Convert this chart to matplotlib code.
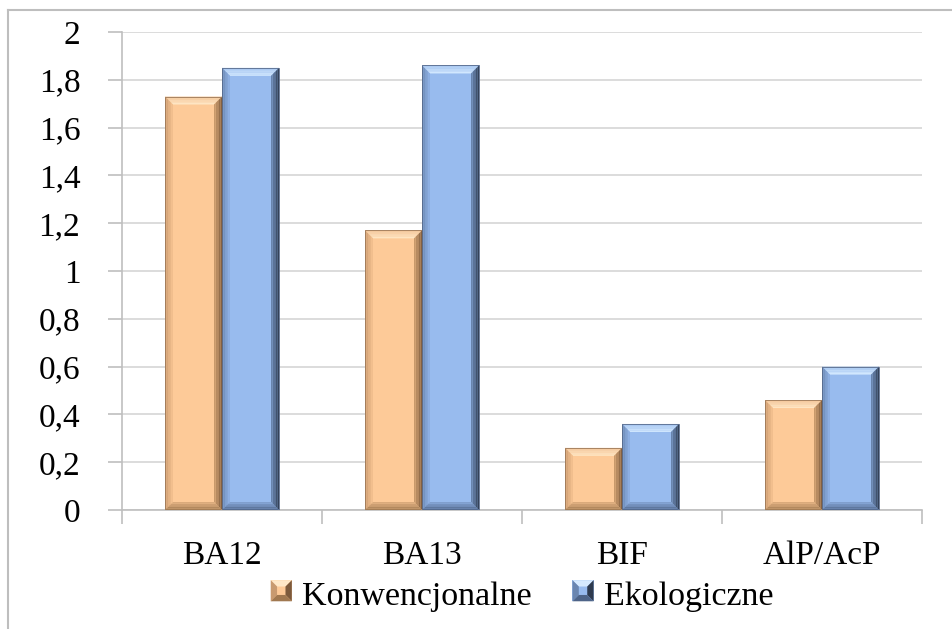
import matplotlib
matplotlib.use("Agg")
import matplotlib.pyplot as plt
from matplotlib.patches import Polygon, Rectangle
from matplotlib.legend_handler import HandlerBase
from matplotlib.lines import Line2D
from matplotlib.colors import to_rgb
import numpy as np

categories = ["BA12", "BA13", "BIF", "AlP/AcP"]
konwencjonalne = [1.73, 1.17, 0.26, 0.46]
ekologiczne = [1.85, 1.86, 0.36, 0.60]
series_names = ["Konwencjonalne", "Ekologiczne"]
yticks = [0, 0.2, 0.4, 0.6, 0.8, 1.0, 1.2, 1.4, 1.6, 1.8, 2.0]

plt.rcParams['font.family'] = ['Liberation Serif', 'DejaVu Serif']

W, H = 953, 629
fig = plt.figure(figsize=(W / 100, H / 100), dpi=100)
ax = fig.add_axes([122 / W, (H - 510) / H, (922 - 122) / W, (510 - 32) / H])

# each bevel: (outer colour, inner colour)
styles = {
    "Konwencjonalne": dict(main="#FDCA98", top=("#F2C69A", "#FFE8C8"), left=("#C89A70", "#F6C290"),
                           right=("#7C5A3C", "#D0A070"), bottom=("#A07850", "#E0B080"), edge="#9C7858"),
    "Ekologiczne": dict(main="#98BBEE", top=("#A8C8F0", "#D6EAFF"), left=("#6A86B0", "#90B2E6"),
                        right=("#2E3A4E", "#6E8CB8"), bottom=("#4E6488", "#86A6D6"), edge="#56698A"),
}

x = np.arange(len(categories))
bw = 0.285
ax.set_xlim(-0.5, len(categories) - 0.5)
ax.set_ylim(0, 2)

px_x = len(categories) / (922 - 122)
px_y = 2.0 / (510 - 32)
bev_x = 8 * px_x
bev_y = 8 * px_y
N = 5


def mix(c1, c2, t):
    a, b = np.array(to_rgb(c1)), np.array(to_rgb(c2))
    return tuple(a + (b - a) * t)


def bevel_bar(x0, w, h, st):
    x1 = x0 + w
    bx = min(bev_x, w / 4)
    by = min(bev_y, h / 4)
    ax.add_patch(Rectangle((x0, 0), w, h, facecolor=st["main"], edgecolor="none", zorder=3))
    for i in range(N):
        t0, t1 = i / N, (i + 1) / N
        tc = (i + 0.5) / N
        ax.add_patch(Polygon([(x0 + bx * t0, h - by * t0), (x1 - bx * t0, h - by * t0),
                              (x1 - bx * t1, h - by * t1), (x0 + bx * t1, h - by * t1)],
                             closed=True, facecolor=mix(*st["top"], tc), edgecolor="none", zorder=4))
        ax.add_patch(Polygon([(x0 + bx * t0, by * t0), (x0 + bx * t0, h - by * t0),
                              (x0 + bx * t1, h - by * t1), (x0 + bx * t1, by * t1)],
                             closed=True, facecolor=mix(*st["left"], tc), edgecolor="none", zorder=4))
        ax.add_patch(Polygon([(x1 - bx * t0, by * t0), (x1 - bx * t0, h - by * t0),
                              (x1 - bx * t1, h - by * t1), (x1 - bx * t1, by * t1)],
                             closed=True, facecolor=mix(*st["right"], tc), edgecolor="none", zorder=4))
        ax.add_patch(Polygon([(x0 + bx * t0, by * t0), (x1 - bx * t0, by * t0),
                              (x1 - bx * t1, by * t1), (x0 + bx * t1, by * t1)],
                             closed=True, facecolor=mix(*st["bottom"], tc), edgecolor="none", zorder=4))
    ax.add_patch(Rectangle((x0, 0), w, h, facecolor="none", edgecolor=st["edge"],
                           linewidth=0.6, zorder=5))


for vals, name, off in [(konwencjonalne, series_names[0], -bw), (ekologiczne, series_names[1], 0)]:
    for xi, v in zip(x, vals):
        bevel_bar(xi + off, bw, v, styles[name])

ax.set_yticks(yticks)
ax.set_yticklabels([("%g" % t).replace(".", ",") for t in yticks])
ax.yaxis.grid(True, color="#D9D9D9", linewidth=1.3, zorder=0)
ax.set_axisbelow(True)
ax.set_xticks(x)
ax.set_xticklabels(categories)
ax.set_xticks(np.arange(len(categories) + 1) - 0.5, minor=True)
ax.tick_params(axis="x", which="major", length=0, pad=22, labelsize=24)
ax.tick_params(axis="x", which="minor", length=10, color="#BFBFBF", width=1.2)
ax.tick_params(axis="y", length=10, color="#BFBFBF", width=1.2, pad=20, labelsize=24)
for s in ["top", "right"]:
    ax.spines[s].set_visible(False)
for s in ["left", "bottom"]:
    ax.spines[s].set_color("#BFBFBF")
    ax.spines[s].set_linewidth(1.2)


class BevelHandler(HandlerBase):
    def __init__(self, st):
        super().__init__()
        self.st = st

    def create_artists(self, legend, orig_handle, xdescent, ydescent, width, height, fontsize, trans):
        s = min(width, height)
        x0 = -xdescent + (width - s)
        y0 = -ydescent + (height - s) / 2 + 0.12 * s
        x1, y1 = x0 + s, y0 + s
        b = s * 0.3
        st = self.st
        arts = [
            Rectangle((x0, y0), s, s, facecolor=st["main"], edgecolor="none", transform=trans),
            Polygon([(x0, y1), (x1, y1), (x1 - b, y1 - b), (x0 + b, y1 - b)], closed=True,
                    facecolor=st["top"][1], edgecolor="none", transform=trans),
            Polygon([(x0, y0), (x0, y1), (x0 + b, y1 - b), (x0 + b, y0 + b)], closed=True,
                    facecolor=st["left"][0], edgecolor="none", transform=trans),
            Polygon([(x1, y0), (x1, y1), (x1 - b, y1 - b), (x1 - b, y0 + b)], closed=True,
                    facecolor=st["right"][0], edgecolor="none", transform=trans),
            Polygon([(x0, y0), (x1, y0), (x1 - b, y0 + b), (x0 + b, y0 + b)], closed=True,
                    facecolor=st["bottom"][0], edgecolor="none", transform=trans),
        ]
        return arts


h1 = Rectangle((0, 0), 1, 1)
h2 = Line2D([0], [0])
leg = fig.legend([h1, h2], series_names, loc="center", bbox_to_anchor=(522 / W, 1 - 597 / H),
                 ncol=2, frameon=False, fontsize=24.5, handlelength=0.62, handleheight=0.62,
                 handletextpad=0.3, columnspacing=1.2,
                 handler_map={h1: BevelHandler(styles[series_names[0]]),
                              h2: BevelHandler(styles[series_names[1]])})

fig.add_artist(Line2D([8 / W, 8 / W], [0, 1 - 10 / H], color="#BEBEBE", linewidth=1.5))
fig.add_artist(Line2D([8 / W, 1], [1 - 10 / H, 1 - 10 / H], color="#BEBEBE", linewidth=1.5))

fig.savefig("out.png", dpi=100)
